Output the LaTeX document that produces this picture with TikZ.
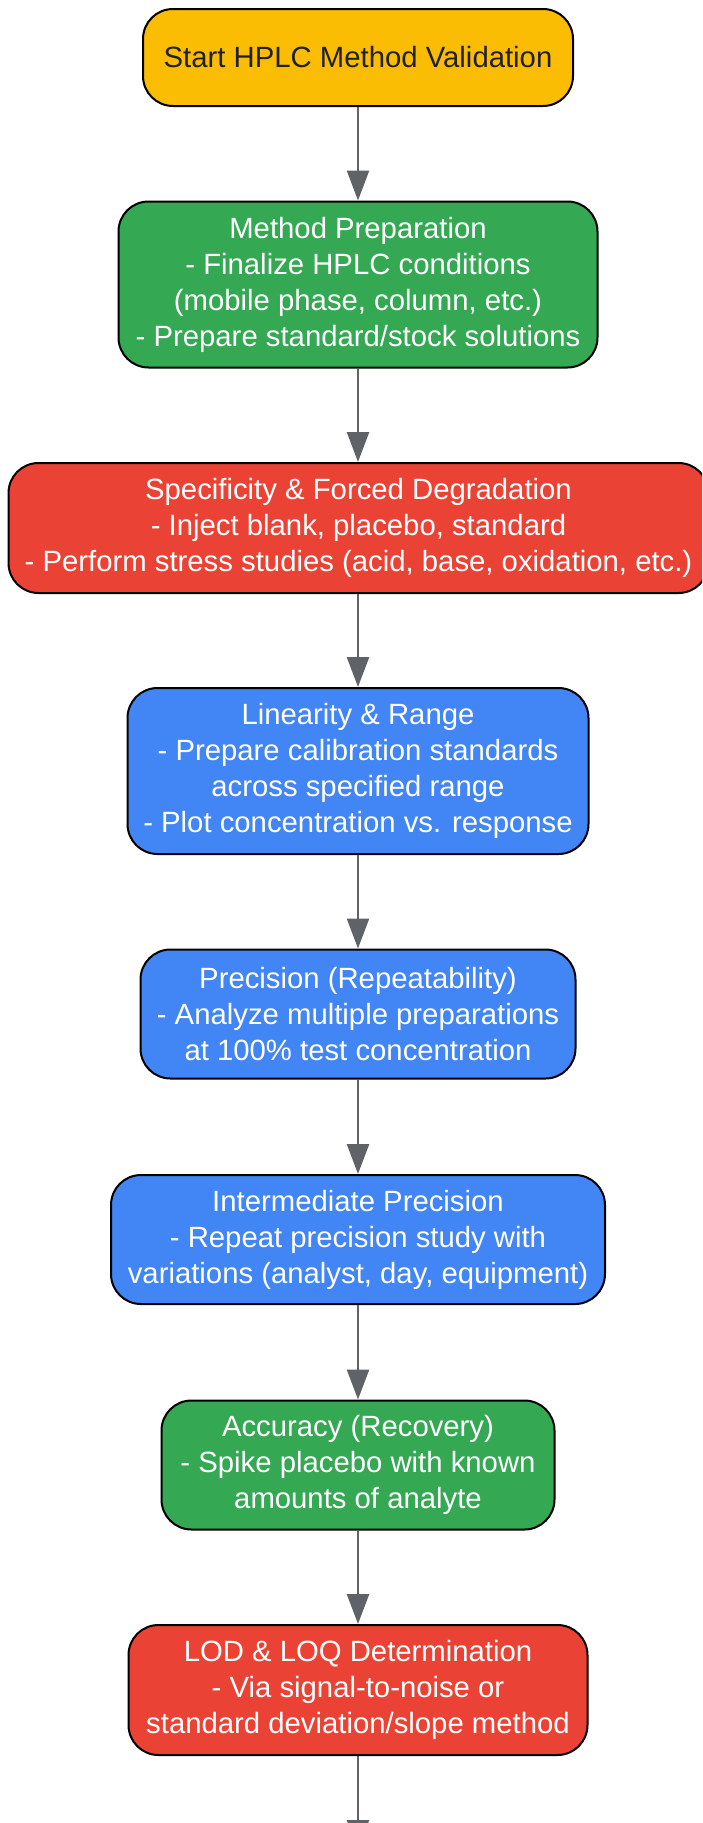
\documentclass[tikz,border=0pt]{standalone}
\usepackage{fontspec}
\setmainfont{Liberation Sans}
\usetikzlibrary{arrows.meta}
\definecolor{cyellow}{HTML}{FBBC04}
\definecolor{cgreen}{HTML}{34A853}
\definecolor{cred}{HTML}{EA4335}
\definecolor{cblue}{HTML}{4285F4}
\definecolor{carrow}{HTML}{5F6368}
\definecolor{cdark}{HTML}{202124}
\tikzset{
  box/.style={draw=black, line width=2pt, rounded corners=30pt, align=center,
    inner sep=0pt, text=white, font=\fontsize{29.3}{36}\selectfont},
  arr/.style={draw=carrow, line width=2.5pt, -{Triangle[length=30pt,width=22pt]}},
}
\begin{document}
\begin{tikzpicture}[x=1pt,y=-1pt]
\path[use as bounding box, clip] (0,0) rectangle (702,1823);
\fill[white] (0,0) rectangle (702,1823);
\node[box, fill=cyellow, text=cdark, minimum width=430pt, minimum height=97pt] (start) at (358,57.5) {Start HPLC Method Validation};
\node[box, fill=cgreen, minimum width=479pt, minimum height=166pt] (prep) at (358,284.5) {Method Preparation\\- Finalize HPLC conditions\\(mobile phase, column, etc.)\\- Prepare standard/stock solutions};
\node[box, fill=cred, minimum width=700pt, minimum height=130pt] (spec) at (358.5,528) {Specificity \& Forced Degradation\\- Inject blank, placebo, standard\\- Perform stress studies (acid, base, oxidation, etc.)};
\node[box, fill=cblue, minimum width=461pt, minimum height=166pt] (lin) at (358,771) {Linearity \& Range\\- Prepare calibration standards\\across specified range\\- Plot concentration vs. response};
\node[box, fill=cblue, minimum width=435pt, minimum height=129pt] (prec) at (358,1014) {Precision (Repeatability)\\- Analyze multiple preparations\\at 100\% test concentration};
\node[box, fill=cblue, minimum width=494pt, minimum height=129pt] (inter) at (358,1239.5) {Intermediate Precision\\- Repeat precision study with\\variations (analyst, day, equipment)};
\node[box, fill=cgreen, minimum width=393pt, minimum height=129pt] (acc) at (358,1465) {Accuracy (Recovery)\\- Spike placebo with known\\amounts of analyte};
\node[box, fill=cred, minimum width=459pt, minimum height=130pt] (lod) at (358,1690) {LOD \& LOQ Determination\\- Via signal-to-noise or\\standard deviation/slope method};
\coordinate (next) at (358,1850);
\draw[arr] (start) -- (prep);
\draw[arr] (prep) -- (spec.north -| prep.south);
\draw[arr] (spec.south -| lin.north) -- (lin);
\draw[arr] (lin) -- (prec);
\draw[arr] (prec) -- (inter);
\draw[arr] (inter) -- (acc);
\draw[arr] (acc) -- (lod);
\draw[arr] (lod) -- (next);
\end{tikzpicture}
\end{document}
